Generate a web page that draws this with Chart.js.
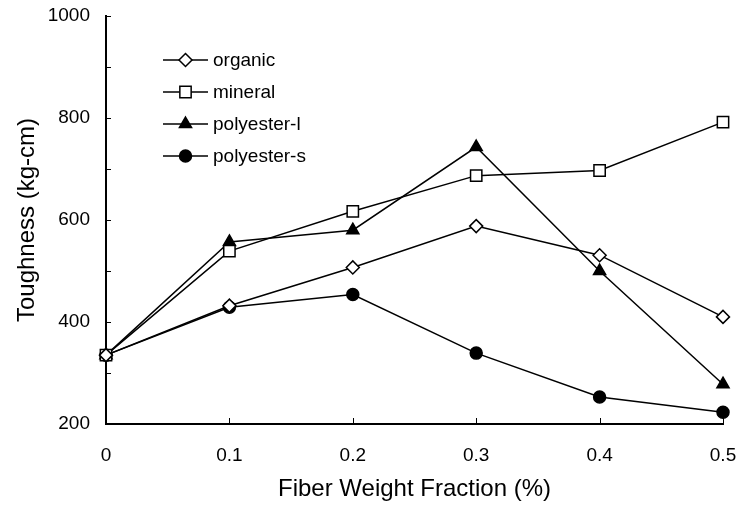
<!DOCTYPE html>
<html>
<head>
<meta charset="utf-8">
<script src="https://cdn.jsdelivr.net/npm/chart.js@4"></script>
<style>
  html, body { margin: 0; padding: 0; background: #fff; }
  #wrap { width: 743px; height: 506px; position: relative; }
</style>
</head>
<body>
<div id="wrap"><canvas id="toughnessChart"></canvas></div>
<script>
// fiber weight fraction (%)
const fractions = [0, 0.1, 0.2, 0.3, 0.4, 0.5];

// toughness (kg-cm)
const organic = [335, 432, 507, 588, 531, 410];
const mineral = [335, 539, 617, 687, 697, 792];
const polyesterL = [335, 557, 580, 743, 500, 278];
const polyesterS = [335, 429, 454, 339, 253, 223];

const seriesNames = ['organic', 'mineral', 'polyester-l', 'polyester-s'];
const yTickLabels = [200, 400, 600, 800, 1000];

const FONT = "'Liberation Sans', Arial, sans-serif";

function toPoints(values) {
  return values.map((v, i) => ({ x: fractions[i], y: v }));
}

function makeSet(label, values, style, radius, filled) {
  return {
    label,
    data: toPoints(values),
    borderColor: '#000',
    borderWidth: 1.5,
    pointStyle: style,
    pointRadius: radius,
    pointHoverRadius: radius,
    pointBorderWidth: 1.5,
    pointBorderColor: '#000',
    pointBackgroundColor: filled ? '#000' : '#fff',
    tension: 0,
    fill: false,
    clip: false
  };
}

// ticks pointing into the plot
const innerTicks = {
  id: 'innerTicks',
  afterDatasetsDraw(chart) {
    const { ctx, chartArea, scales } = chart;
    ctx.save();
    ctx.strokeStyle = '#000';
    ctx.lineWidth = 1;
    scales.y.ticks.forEach(t => {
      const y = Math.round(scales.y.getPixelForValue(t.value)) + 0.5;
      ctx.beginPath();
      ctx.moveTo(chartArea.left, y);
      ctx.lineTo(chartArea.left + 5, y);
      ctx.stroke();
    });
    scales.x.ticks.forEach(t => {
      const x = Math.round(scales.x.getPixelForValue(t.value)) + 0.5;
      ctx.beginPath();
      ctx.moveTo(x, chartArea.bottom);
      ctx.lineTo(x, chartArea.bottom - 6);
      ctx.stroke();
    });
    ctx.restore();
  }
};

// legend inside the plot: line through marker, then the name
const inlineLegend = {
  id: 'inlineLegend',
  afterDraw(chart) {
    const { ctx } = chart;
    const x0 = 163, x1 = 208, top = 60, step = 32;
    ctx.save();
    ctx.font = '19px ' + FONT;
    ctx.textBaseline = 'middle';
    chart.data.datasets.forEach((ds, i) => {
      const y = top + i * step;
      ctx.strokeStyle = '#000';
      ctx.lineWidth = 1.5;
      ctx.beginPath();
      ctx.moveTo(x0, y);
      ctx.lineTo(x1, y);
      ctx.stroke();
      ctx.fillStyle = ds.pointBackgroundColor;
      ctx.lineWidth = ds.pointBorderWidth;
      Chart.helpers.drawPoint(ctx, {
        pointStyle: ds.pointStyle,
        radius: ds.pointRadius,
        rotation: 0,
        borderWidth: ds.pointBorderWidth
      }, (x0 + x1) / 2, y);
      ctx.fillStyle = '#000';
      ctx.fillText(ds.label, 213, y + 1);
    });
    ctx.restore();
  }
};

new Chart(document.getElementById('toughnessChart'), {
  type: 'line',
  data: {
    datasets: [
      makeSet(seriesNames[0], organic, 'rectRot', 6.5, false),
      makeSet(seriesNames[1], mineral, 'rect', 8, false),
      makeSet(seriesNames[2], polyesterL, 'triangle', 7, true),
      makeSet(seriesNames[3], polyesterS, 'circle', 6, true)
    ]
  },
  options: {
    responsive: true,
    maintainAspectRatio: false,
    animation: false,
    layout: { padding: { top: 16, right: 20, left: 0, bottom: 0 } },
    plugins: {
      legend: { display: false },
      tooltip: { enabled: false }
    },
    scales: {
      x: {
        type: 'linear',
        min: 0,
        max: 0.5,
        afterFit: s => {
          s.height = 82;
          s.paddingLeft = 0;
          s.paddingRight = 0;
        },
        grid: { display: false },
        border: { display: true, color: '#000', width: 2 },
        ticks: {
          stepSize: 0.1,
          padding: 12,
          color: '#000',
          font: { family: FONT, size: 19 },
          maxRotation: 0,
          callback: v => {
            const r = Math.round(v * 10) / 10;
            return r === 0 ? '0' : r.toFixed(1);
          }
        },
        title: {
          display: true,
          text: 'Fiber Weight Fraction (%)',
          color: '#000',
          font: { family: FONT, size: 24 },
          padding: { top: 0, bottom: 2 }
        }
      },
      y: {
        min: 200,
        max: 1000,
        afterFit: s => {
          s.width = 106;
          s.paddingTop = 0;
          s.paddingBottom = 0;
        },
        grid: { display: false },
        border: { display: true, color: '#000', width: 2 },
        ticks: {
          stepSize: 100,
          padding: 8,
          color: '#000',
          font: { family: FONT, size: 19 },
          callback: v => (yTickLabels.includes(v) ? String(v) : '')
        },
        title: {
          display: true,
          text: 'Toughness (kg-cm)',
          color: '#000',
          font: { family: FONT, size: 24 },
          padding: { top: 13, bottom: 0 }
        }
      }
    }
  },
  plugins: [innerTicks, inlineLegend]
});
</script>
</body>
</html>
